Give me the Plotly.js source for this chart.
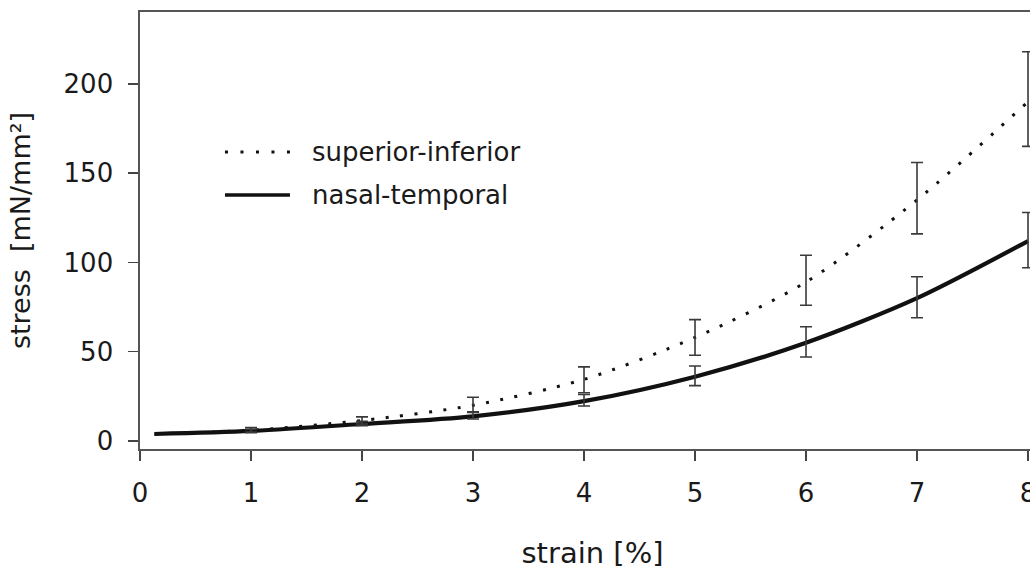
<!DOCTYPE html>
<html>
<head>
<meta charset="utf-8">
<script src="https://cdn.plot.ly/plotly-3.0.1.min.js"></script>
<style>
html,body{margin:0;padding:0;background:#fff;overflow:hidden;}
#chart{width:1055px;height:571px;}
</style>
</head>
<body>
<div id="chart"></div>
<script>
// strain [%]
const strain = [0.13, 1, 2, 3, 4, 5, 6, 7, 8];
// mean stress [mN/mm²]
const superiorInferior = [3.9, 6, 11.5, 20, 34.5, 58, 89, 135, 190];
const nasalTemporal    = [3.9, 5.6, 9.5, 13.8, 22.3, 36, 55, 80, 112];

// error bars at integer strains
const errStrain = [1, 2, 3, 4, 5, 6, 7, 8];
const siMean  = [6, 11.5, 20, 34.5, 58, 89, 135, 190];
const siPlus  = [1.5, 2, 4.5, 7, 10, 15, 21, 28];
const siMinus = [1, 2, 4, 7.5, 10, 13, 19, 25];
const ntMean  = [5.6, 9.5, 13.8, 22.3, 36, 55, 80, 112];
const ntPlus  = [1, 1.5, 2.5, 3.7, 6, 9, 12, 16];
const ntMinus = [1, 1, 1.5, 2.7, 5, 8, 11, 15];

const xTicks = [0, 1, 2, 3, 4, 5, 6, 7, 8];
const yTicks = [0, 50, 100, 150, 200];
const seriesNames = ['superior-inferior', 'nasal-temporal'];

const FONT = 'DejaVu Sans, Arial, sans-serif';
const INK = '#1a1a1a';

const traces = [
  {
    x: strain, y: superiorInferior, type: 'scatter', mode: 'lines',
    name: seriesNames[0],
    line: {color: '#111', width: 3, dash: '3px,11.5px', shape: 'spline', smoothing: 0.8},
    showlegend: false, hoverinfo: 'x+y'
  },
  {
    x: strain, y: nasalTemporal, type: 'scatter', mode: 'lines',
    name: seriesNames[1],
    line: {color: '#111', width: 4.2, shape: 'spline', smoothing: 0.8},
    showlegend: false, hoverinfo: 'x+y'
  },
  {
    x: errStrain, y: siMean, type: 'scatter', mode: 'markers',
    marker: {size: 1, color: 'rgba(0,0,0,0)'},
    error_y: {type: 'data', symmetric: false, array: siPlus, arrayminus: siMinus,
              color: '#3a3a3a', thickness: 1.6, width: 6},
    showlegend: false, hoverinfo: 'skip'
  },
  {
    x: errStrain, y: ntMean, type: 'scatter', mode: 'markers',
    marker: {size: 1, color: 'rgba(0,0,0,0)'},
    error_y: {type: 'data', symmetric: false, array: ntPlus, arrayminus: ntMinus,
              color: '#3a3a3a', thickness: 1.6, width: 6},
    showlegend: false, hoverinfo: 'skip'
  }
];

// legend drawn in paper coordinates
const legY = [0.6796, 0.5812];
const layout = {
  width: 1055, height: 571,
  margin: {l: 140, r: 10, t: 12, b: 122},
  paper_bgcolor: '#fff', plot_bgcolor: '#fff',
  font: {family: FONT, color: INK, size: 26},
  showlegend: false,
  xaxis: {
    range: [0, 8.153],
    tickmode: 'array', tickvals: xTicks, ticktext: xTicks.map(String),
    ticks: 'outside', ticklen: 10, tickwidth: 1.5, tickcolor: '#444',
    ticklabelstandoff: 10,
    showline: true, linecolor: '#555', linewidth: 1.6, mirror: true,
    showgrid: false, zeroline: false,
    tickfont: {family: FONT, size: 26, color: INK},
    title: {text: 'strain [%]', font: {family: FONT, size: 29, color: INK}, standoff: 36}
  },
  yaxis: {
    range: [-4.5, 240.3],
    tickmode: 'array', tickvals: yTicks, ticktext: yTicks.map(String),
    ticks: 'outside', ticklen: 10, tickwidth: 1.5, tickcolor: '#444',
    ticklabelstandoff: 10,
    showline: true, linecolor: '#555', linewidth: 1.6, mirror: true,
    showgrid: false, zeroline: false,
    tickfont: {family: FONT, size: 26, color: INK},
    title: {text: 'stress  [mN/mm²]', font: {family: FONT, size: 27, color: INK}, standoff: 25}
  },
  shapes: [
    {type: 'line', xref: 'paper', yref: 'paper', x0: 0.0939, x1: 0.1657, y0: legY[0], y1: legY[0],
     line: {color: '#111', width: 3, dash: '3px,12.5px'}},
    {type: 'line', xref: 'paper', yref: 'paper', x0: 0.0939, x1: 0.1657, y0: legY[1], y1: legY[1],
     line: {color: '#111', width: 3.4}}
  ],
  annotations: [
    {xref: 'paper', yref: 'paper', x: 0.1878, y: legY[0], xanchor: 'left', yanchor: 'middle',
     text: seriesNames[0], showarrow: false, font: {family: FONT, size: 26, color: INK}},
    {xref: 'paper', yref: 'paper', x: 0.1878, y: legY[1], xanchor: 'left', yanchor: 'middle',
     text: seriesNames[1], showarrow: false, font: {family: FONT, size: 26, color: INK}}
  ]
};

Plotly.newPlot('chart', traces, layout, {displayModeBar: false, staticPlot: true});
</script>
</body>
</html>
